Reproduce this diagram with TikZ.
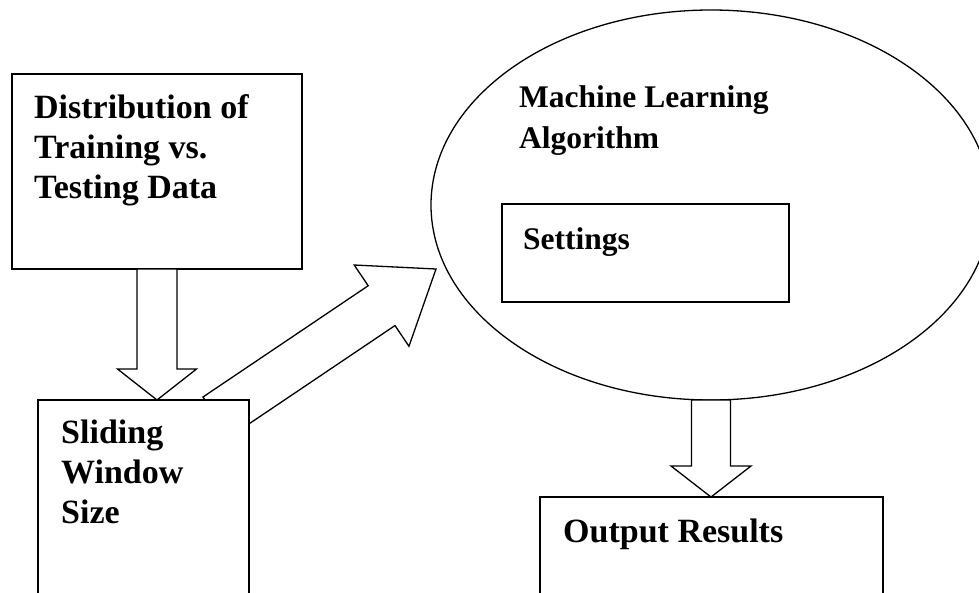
\documentclass[tikz,border=0pt]{standalone}
\usepackage{fontspec}
\setmainfont{Liberation Serif}
\usetikzlibrary{calc,shapes.geometric}

% Hollow block arrow: #1 tail centre, #2 tip, #3 shaft half-width,
% #4 head half-width, #5 head length, #6 name prefix
\newcommand\blockarrow[6]{%
  \coordinate (#6neck) at ($(#2)!#5!(#1)$);
  \draw[blk]
    ($(#1)!#3!90:(#2)$) -- ($(#6neck)!#3!-90:(#1)$) --
    ($(#6neck)!#4!-90:(#1)$) -- (#2) --
    ($(#6neck)!#4!90:(#1)$) -- ($(#6neck)!#3!90:(#1)$) --
    ($(#1)!#3!-90:(#2)$) -- cycle;
}

\begin{document}
\begin{tikzpicture}[x=1pt,y=-1pt,
  box/.style={draw, line width=1.6pt, fill=white, inner sep=0pt, outer sep=0pt},
  blk/.style={draw, line width=1.3pt, fill=white, line join=miter},
  lbl/.style={anchor=north west, inner sep=0pt, align=left,
    font=\fontsize{34}{40}\selectfont\bfseries},
  lblsmall/.style={lbl, font=\fontsize{31.5}{41}\selectfont\bfseries}]
\useasboundingbox (0,0) rectangle (979,592);
\clip (0,0) rectangle (979,592);

% boxes and the algorithm ellipse
\node[box, minimum width=290pt, minimum height=195pt] (data) at (157,171.5) {};
\node[box, ellipse, line width=1.3pt, minimum width=560pt, minimum height=390pt] (ml) at (711,205) {};
\node[box, minimum width=287pt, minimum height=98pt] (settings) at (645.5,253) {};

% connectors drawn under the lower boxes
\coordinate (dtail) at (216.4,416.9);
\coordinate (dtip) at (436,269);
\blockarrow{dtail}{dtip}{24pt}{49pt}{65.6pt}{diag}

\node[box, minimum width=211pt, minimum height=230pt] (window) at (143.5,515) {};
\node[box, minimum width=343pt, minimum height=130pt] (output) at (711.5,562) {};

\coordinate (t1) at (data.south |- window.north);
\blockarrow{data.south}{t1}{20pt}{39.5pt}{31pt}{down}
\coordinate (t2) at (ml.south |- output.north);
\blockarrow{ml.south}{t2}{19.5pt}{40pt}{31pt}{out}

% labels
\node[lbl] (datalbl) at (34,90) {\strut Distribution of\\\strut Training vs.\\\strut Testing Data};
\node[lblsmall] (mllbl) at (519,78.3) {\strut Machine Learning\\\strut Algorithm};
\node[lblsmall] (setlbl) at (523,220.3) {\strut Settings};
\node[lbl] (winlbl) at (61,415) {\strut Sliding\\\strut Window\\\strut Size};
\node[lbl] (outlbl) at (563,514) {\strut Output Results};
\end{tikzpicture}
\end{document}
